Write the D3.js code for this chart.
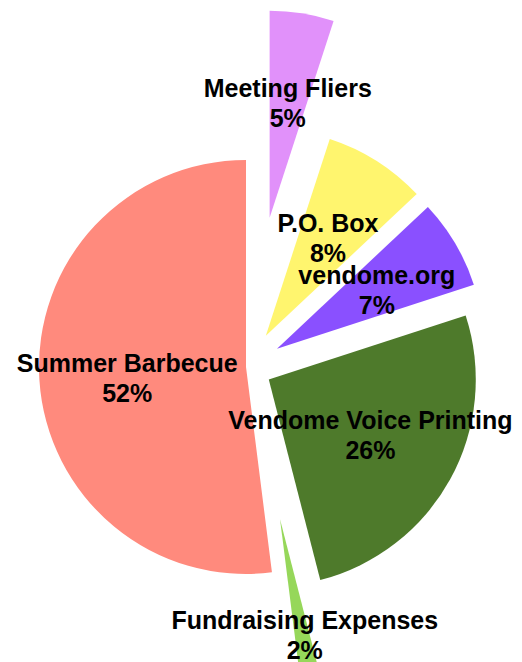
<!DOCTYPE html>
<html>
<head>
<meta charset="utf-8">
<script src="https://cdn.jsdelivr.net/npm/d3@7"></script>
<style>
  body { margin: 0; background: #fff; }
  svg { display: block; }
  .label { font-family: "Liberation Sans", Arial, sans-serif; font-weight: bold; font-size: 25px; fill: #000; }
</style>
</head>
<body>
<script>
(function () {
  'use strict';

  // slices, clockwise from 12 o'clock
  const categories = ['Meeting Fliers', 'P.O. Box', 'vendome.org', 'Vendome Voice Printing', 'Fundraising Expenses', 'Summer Barbecue'];
  const values = [5, 8, 7, 26, 2, 52];
  const colors = ['#e191fa', '#fff56e', '#8a50ff', '#4e7a2b', '#96d75a', '#ff8a7d'];

  const width = 522;
  const height = 662;
  const cx = 246, cy = 367;
  const radius = 207;
  // how far each wedge is pulled out from the centre
  const explode = [151, 37, 36, 26, 155, 0];

  const svg = d3.select('body')
    .append('svg')
    .attr('width', width)
    .attr('height', height);

  const data = categories.map((c, i) => ({ name: c, value: values[i], color: colors[i], pull: explode[i] }));

  const pie = d3.pie()
    .sort(null)
    .value(d => d.value);

  const arc = d3.arc()
    .innerRadius(0)
    .outerRadius(radius);

  const arcs = pie(data);

  // unit vector through the middle of a wedge
  function dir(d) {
    const a = (d.startAngle + d.endAngle) / 2;
    return [Math.sin(a), -Math.cos(a)];
  }

  // small hand tweaks so wedges line up with the original
  function shiftX(d) {
    return d.data.name === 'Fundraising Expenses' ? 5 : 0;
  }

  const g = svg.append('g')
    .attr('transform', `translate(${cx},${cy})`);

  g.selectAll('path')
    .data(arcs)
    .enter()
    .append('path')
    .attr('d', arc)
    .attr('fill', d => d.data.color)
    .attr('transform', d => {
      const v = dir(d);
      return `translate(${v[0] * d.data.pull + shiftX(d)},${v[1] * d.data.pull})`;
    });

  // labels sit a little past half way out along each wedge
  const labelR = 116;
  const total = d3.sum(values);

  const labels = g.selectAll('g.lab')
    .data(arcs)
    .enter()
    .append('g')
    .attr('class', 'lab')
    .attr('transform', d => {
      const v = dir(d);
      const r = d.data.pull + labelR;
      let x = v[0] * r + shiftX(d), y = v[1] * r;
      if (d.data.name === 'Summer Barbecue') { x -= 3; y += 4; }
      if (d.data.name === 'Fundraising Expenses') { x += 3; y += 2; }
      return `translate(${x},${y})`;
    });

  labels.append('text')
    .attr('class', 'label')
    .attr('text-anchor', 'middle')
    .attr('dominant-baseline', 'central')
    .attr('y', -15)
    .text(d => d.data.name);

  labels.append('text')
    .attr('class', 'label')
    .attr('text-anchor', 'middle')
    .attr('dominant-baseline', 'central')
    .attr('y', 15)
    .text(d => Math.round(d.data.value / total * 100) + '%');
})();
</script>
</body>
</html>
